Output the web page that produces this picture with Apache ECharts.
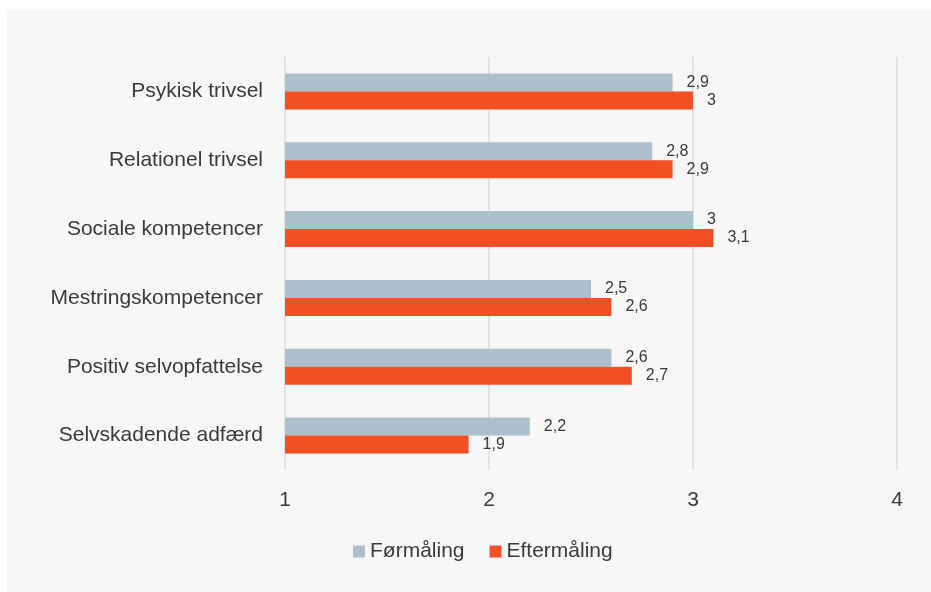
<!DOCTYPE html>
<html>
<head>
<meta charset="utf-8">
<script src="https://cdn.jsdelivr.net/npm/echarts@6/dist/echarts.min.js"></script>
<style>
html,body{margin:0;padding:0;background:#ffffff;}
#c{width:931px;height:592px;}
</style>
</head>
<body>
<div id="c"></div>
<script>
const categories = ["Psykisk trivsel","Relationel trivsel","Sociale kompetencer","Mestringskompetencer","Positiv selvopfattelse","Selvskadende adfærd"];
const formaling = [2.9, 2.8, 3, 2.5, 2.6, 2.2];
const eftermaling = [3, 2.9, 3.1, 2.6, 2.7, 1.9];
const seriesNames = ["Førmåling","Eftermåling"];
const xTicks = [1, 2, 3, 4];

const fmt = v => String(v).replace('.', ',');
const chart = echarts.init(document.getElementById('c'), null, {renderer:'canvas'});
const font = '"Liberation Sans", Arial, Helvetica, sans-serif';
const txt = '#3a3a3a';
const lbl = {
  show: true, position: 'right', distance: 14,
  color: txt, fontSize: 16, fontFamily: font,
  formatter: p => fmt(p.value)
};
chart.setOption({
  backgroundColor: 'transparent',
  animation: false,
  graphic: [{
    type: 'rect', z: -10, silent: true,
    shape: {x: 7, y: 10, width: 924, height: 582},
    style: {fill: '#f7f7f7'}
  }],
  legend: {
    data: seriesNames,
    bottom: 25, left: 348,
    itemWidth: 12, itemHeight: 12, itemGap: 25,
    icon: 'rect',
    textStyle: {color: txt, fontSize: 21, fontFamily: font}
  },
  grid: {left: 285, right: 34, top: 57, bottom: 122, containLabel: false},
  xAxis: {
    type: 'value', min: 1, max: 4, interval: 1,
    axisLine: {show: false}, axisTick: {show: false},
    splitLine: {show: true, lineStyle: {color: '#dcdcdc', width: 1.5}},
    axisLabel: {color: txt, fontSize: 21, fontFamily: font, margin: 20,
      formatter: v => xTicks.includes(v) ? String(v) : ''}
  },
  yAxis: {
    type: 'category', data: categories, inverse: true,
    axisLine: {show: false}, axisTick: {show: false},
    axisLabel: {color: txt, fontSize: 21, fontFamily: font, margin: 22}
  },
  series: [
    {name: seriesNames[0], type: 'bar', data: formaling, barWidth: 18, barGap: '0%',
     itemStyle: {color: '#adbfcb'}, label: lbl},
    {name: seriesNames[1], type: 'bar', data: eftermaling, barWidth: 18, barGap: '0%',
     itemStyle: {color: '#f15025'}, label: lbl}
  ]
});
</script>
</body>
</html>
